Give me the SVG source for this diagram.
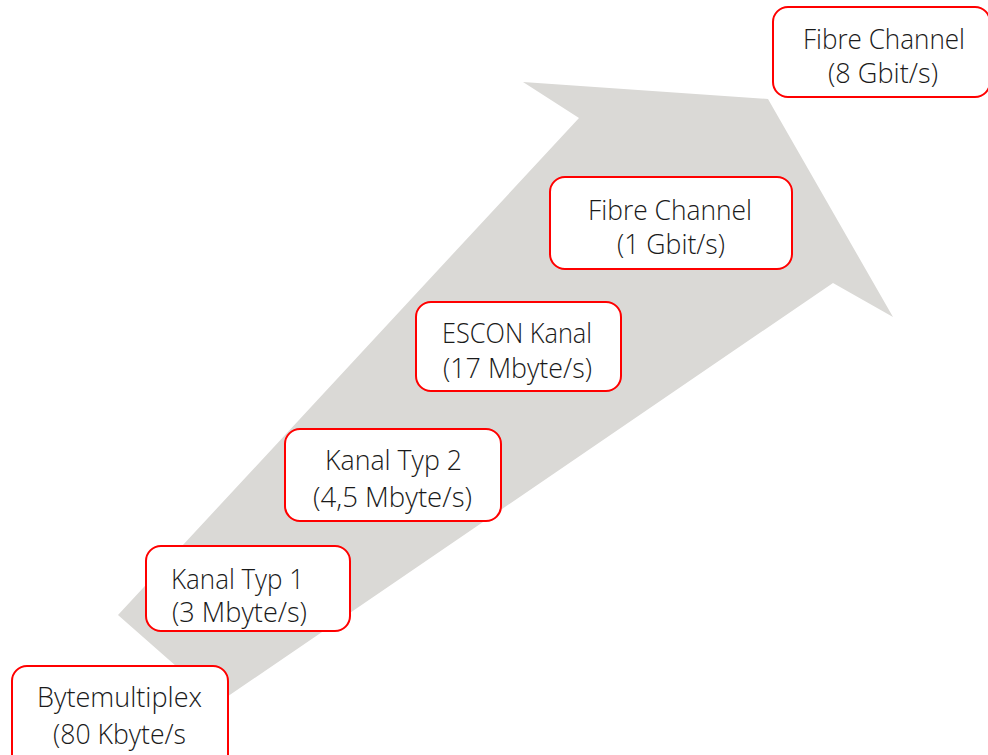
<svg xmlns="http://www.w3.org/2000/svg" width="988" height="755" viewBox="0 0 988 755">
<style>
.box{fill:#ffffff;stroke:#ff0000;stroke-width:2}
.t{font-family:"Open Sans","Noto Sans","Liberation Sans",sans-serif;font-size:28px;font-weight:300;fill:#1a1a1a}
</style>
<rect width="988" height="755" fill="#ffffff"/>
<polygon id="arrow" points="118,615 579,118 523,82 768,99 893,317 833,283 218,703" fill="#dad9d6"/>
<g id="connectors"/>
<g id="n1">
<rect class="box" x="12" y="666" width="216" height="110" rx="15"/>
<text class="t" x="37" y="707" textLength="165" lengthAdjust="spacingAndGlyphs">Bytemultiplex</text>
<text class="t" x="53" y="744" textLength="133" lengthAdjust="spacingAndGlyphs">(80 Kbyte/s</text>
</g>
<g id="n2">
<rect class="box" x="146" y="546" width="204" height="85" rx="15"/>
<text class="t" x="171" y="589" textLength="133" lengthAdjust="spacingAndGlyphs">Kanal Typ 1</text>
<text class="t" x="172" y="622" textLength="135" lengthAdjust="spacingAndGlyphs">(3 Mbyte/s)</text>
</g>
<g id="n3">
<rect class="box" x="285" y="429" width="216" height="92" rx="15"/>
<text class="t" x="325" y="470" textLength="137" lengthAdjust="spacingAndGlyphs">Kanal Typ 2</text>
<text class="t" x="313" y="507" textLength="159" lengthAdjust="spacingAndGlyphs">(4,5 Mbyte/s)</text>
</g>
<g id="n4">
<rect class="box" x="416" y="302" width="205" height="89" rx="15"/>
<text class="t" x="442" y="343" textLength="150" lengthAdjust="spacingAndGlyphs">ESCON Kanal</text>
<text class="t" x="443" y="378" textLength="149" lengthAdjust="spacingAndGlyphs">(17 Mbyte/s)</text>
</g>
<g id="n5">
<rect class="box" x="550" y="177" width="242" height="92" rx="15"/>
<text class="t" x="588" y="220" textLength="164" lengthAdjust="spacingAndGlyphs">Fibre Channel</text>
<text class="t" x="617" y="254" textLength="108" lengthAdjust="spacingAndGlyphs">(1 Gbit/s)</text>
</g>
<g id="n6">
<rect class="box" x="773" y="7" width="217" height="90" rx="15"/>
<text class="t" x="803" y="49" textLength="162" lengthAdjust="spacingAndGlyphs">Fibre Channel</text>
<text class="t" x="828" y="83" textLength="110" lengthAdjust="spacingAndGlyphs">(8 Gbit/s)</text>
</g>
</svg>
